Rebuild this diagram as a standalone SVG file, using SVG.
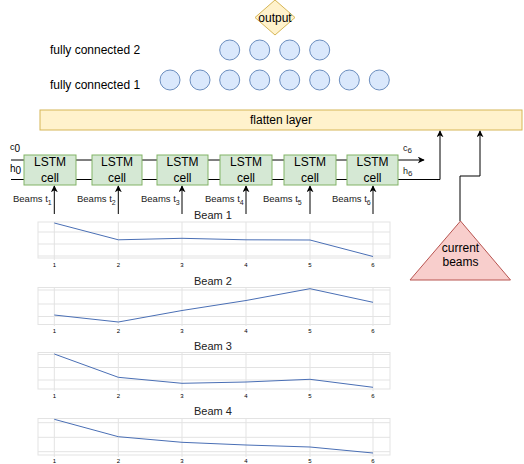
<svg xmlns="http://www.w3.org/2000/svg" width="524" height="464" viewBox="0 0 524 464">
<defs>
<style>
text{font-family:"Liberation Sans",Arial,sans-serif;fill:#000}
.fc{fill:#dae8fc;stroke:#6c8ebf;stroke-width:1}
.cell{fill:#d5e8d4;stroke:#82b366;stroke-width:1}
.lbl{font-size:12px}
.c12{font-size:12px;text-anchor:middle}
.bm{font-size:9.5px;fill:#222}
.sub{font-size:7px}
.wire{fill:none;stroke:#000;stroke-width:1}
.grid{fill:none;stroke:#e3e3e3;stroke-width:1}
.frame{fill:#fff;stroke:#e3e3e3;stroke-width:1}
.data{fill:none;stroke:#4a6fb5;stroke-width:1}
.tick{font-size:6px;fill:#555;text-anchor:middle}
.ttl{font-size:11px;text-anchor:middle;fill:#222}
</style>
<marker id="ah" viewBox="0 0 10 10" refX="9" refY="5" markerWidth="7" markerHeight="7" orient="auto" markerUnits="userSpaceOnUse">
<path d="M0,0 L10,5 L0,10 L3,5 Z" fill="#000"/>
</marker>
</defs>
<rect width="524" height="464" fill="#fff"/>

<g id="output">
<polygon points="275,0 295,17.5 275,35 255,17.5" fill="#fff2cc" stroke="#d6b656"/>
<text x="275" y="22" class="c12">output</text>
</g>

<g id="fc2">
<text x="50" y="54" class="lbl">fully connected 2</text>
<circle class="fc" cx="229.7" cy="50" r="10"/>
<circle class="fc" cx="259.7" cy="50" r="10"/>
<circle class="fc" cx="289.7" cy="50" r="10"/>
<circle class="fc" cx="319.7" cy="50" r="10"/>
</g>
<g id="fc1">
<text x="50" y="89" class="lbl">fully connected 1</text>
<circle class="fc" cx="170" cy="80" r="10"/>
<circle class="fc" cx="200" cy="80" r="10"/>
<circle class="fc" cx="229.7" cy="80" r="10"/>
<circle class="fc" cx="259.7" cy="80" r="10"/>
<circle class="fc" cx="289.7" cy="80" r="10"/>
<circle class="fc" cx="319.7" cy="80" r="10"/>
<circle class="fc" cx="349.3" cy="80" r="10"/>
<circle class="fc" cx="379.3" cy="80" r="10"/>
</g>

<g id="flatten">
<rect x="40" y="110" width="482" height="20" fill="#fff2cc" stroke="#d6b656"/>
<text x="281" y="124" class="c12">flatten layer</text>
</g>

<g id="connectors">
<path class="wire" d="M11,160 H24 M76,160 H92 M142,160 H157 M208,160 H220 M272,160 H284 M336,160 H347" stroke="#555"/>
<path class="wire" d="M11,179.5 H24 M76,179.5 H92 M142,179.5 H157 M208,179.5 H220 M272,179.5 H284 M336,179.5 H347"/>
<path class="wire" d="M398,160 H424" marker-end="url(#ah)"/>
<path class="wire" d="M398,179.5 H440 V131" marker-end="url(#ah)"/>
<path class="wire" d="M460,221 V176 H480 V131" marker-end="url(#ah)"/>
<path class="wire" d="M54.3,214 V186" marker-end="url(#ah)"/>
<path class="wire" d="M118.3,214 V186" marker-end="url(#ah)"/>
<path class="wire" d="M182,214 V186" marker-end="url(#ah)"/>
<path class="wire" d="M246,214 V186" marker-end="url(#ah)"/>
<path class="wire" d="M310,214 V186" marker-end="url(#ah)"/>
<path class="wire" d="M373,214 V186" marker-end="url(#ah)"/>
</g>

<g id="labels-state">
<text x="10" y="150" style="font-size:9px">c<tspan style="font-size:10px" dy="2">0</tspan></text>
<text x="10" y="172" style="font-size:10px">h<tspan style="font-size:10px" dy="2">0</tspan></text>
<text x="403" y="151" style="font-size:9px;fill:#222">c<tspan style="font-size:8px" dy="2">6</tspan></text>
<text x="403" y="174" style="font-size:9px;fill:#222">h<tspan style="font-size:8px" dy="2">6</tspan></text>
</g>

<g id="lstm1"><rect class="cell" x="24" y="155" width="52" height="30"/><text x="50" y="166" class="c12">LSTM</text><text x="50" y="182" class="c12">cell</text></g>
<g id="lstm2"><rect class="cell" x="92" y="155" width="50" height="30"/><text x="117" y="166" class="c12">LSTM</text><text x="117" y="182" class="c12">cell</text></g>
<g id="lstm3"><rect class="cell" x="157" y="155" width="51" height="30"/><text x="182.5" y="166" class="c12">LSTM</text><text x="182.5" y="182" class="c12">cell</text></g>
<g id="lstm4"><rect class="cell" x="220" y="155" width="52" height="30"/><text x="246" y="166" class="c12">LSTM</text><text x="246" y="182" class="c12">cell</text></g>
<g id="lstm5"><rect class="cell" x="284" y="155" width="52" height="30"/><text x="310" y="166" class="c12">LSTM</text><text x="310" y="182" class="c12">cell</text></g>
<g id="lstm6"><rect class="cell" x="347" y="155" width="51" height="30"/><text x="372.5" y="166" class="c12">LSTM</text><text x="372.5" y="182" class="c12">cell</text></g>

<g id="beam-labels">
<text x="13" y="202" class="bm">Beams t<tspan class="sub" dy="3">1</tspan></text>
<text x="77" y="202" class="bm">Beams t<tspan class="sub" dy="3">2</tspan></text>
<text x="141" y="202" class="bm">Beams t<tspan class="sub" dy="3">3</tspan></text>
<text x="205" y="202" class="bm">Beams t<tspan class="sub" dy="3">4</tspan></text>
<text x="263" y="202" class="bm">Beams t<tspan class="sub" dy="3">5</tspan></text>
<text x="332" y="202" class="bm">Beams t<tspan class="sub" dy="3">6</tspan></text>
</g>

<g id="current-beams">
<polygon points="460.5,221 510.5,280 410,280" fill="#f8cecc" stroke="#b85450"/>
<text x="460.5" y="252" class="c12">current</text>
<text x="460.5" y="266" class="c12">beams</text>
</g>

<g id="chart1">
<text x="213" y="219" class="ttl">Beam 1</text>
<rect class="frame" x="38" y="222" width="352" height="36"/>
<path class="grid" d="M38,232 H390 M38,244 H390 M38,256 H390 M54.3,222 V260 M118.3,222 V260 M182,222 V260 M246,222 V260 M310,222 V260 M373,222 V260"/>
<polyline class="data" points="54.3,223 118.3,239.8 182,238.3 246,239.8 310,240 373,256.5"/>
<g class="tick"><text x="54.3" y="267">1</text><text x="118.3" y="267">2</text><text x="182" y="267">3</text><text x="246" y="267">4</text><text x="310" y="267">5</text><text x="373" y="267">6</text></g>
</g>

<g id="chart2">
<text x="213" y="285" class="ttl">Beam 2</text>
<rect class="frame" x="38" y="287.5" width="352" height="37"/>
<path class="grid" d="M38,290 H390 M38,304 H390 M38,316.5 H390 M54.3,287.5 V326 M118.3,287.5 V326 M182,287.5 V326 M246,287.5 V326 M310,287.5 V326 M373,287.5 V326"/>
<polyline class="data" points="54.3,315 118.3,322 182,310.5 246,300.5 310,288.7 373,302.3"/>
<g class="tick"><text x="54.3" y="333">1</text><text x="118.3" y="333">2</text><text x="182" y="333">3</text><text x="246" y="333">4</text><text x="310" y="333">5</text><text x="373" y="333">6</text></g>
</g>

<g id="chart3">
<text x="213" y="350" class="ttl">Beam 3</text>
<rect class="frame" x="38" y="352.5" width="352" height="36.5"/>
<path class="grid" d="M38,354.5 H390 M38,367.5 H390 M38,380 H390 M54.3,352.5 V391 M118.3,352.5 V391 M182,352.5 V391 M246,352.5 V391 M310,352.5 V391 M373,352.5 V391"/>
<polyline class="data" points="54.3,354 118.3,377.3 182,383.3 246,382 310,379.3 373,387.3"/>
<g class="tick"><text x="54.3" y="398">1</text><text x="118.3" y="398">2</text><text x="182" y="398">3</text><text x="246" y="398">4</text><text x="310" y="398">5</text><text x="373" y="398">6</text></g>
</g>

<g id="chart4">
<text x="213" y="415" class="ttl">Beam 4</text>
<rect class="frame" x="38" y="418.5" width="352" height="36.5"/>
<path class="grid" d="M38,422.7 H390 M38,437.3 H390 M38,451.7 H390 M54.3,418.5 V457 M118.3,418.5 V457 M182,418.5 V457 M246,418.5 V457 M310,418.5 V457 M373,418.5 V457"/>
<polyline class="data" points="54.3,419.3 118.3,436.7 182,442.3 246,445 310,447 373,453"/>
<g class="tick"><text x="54.3" y="463">1</text><text x="118.3" y="463">2</text><text x="182" y="463">3</text><text x="246" y="463">4</text><text x="310" y="463">5</text><text x="373" y="463">6</text></g>
</g>
</svg>
